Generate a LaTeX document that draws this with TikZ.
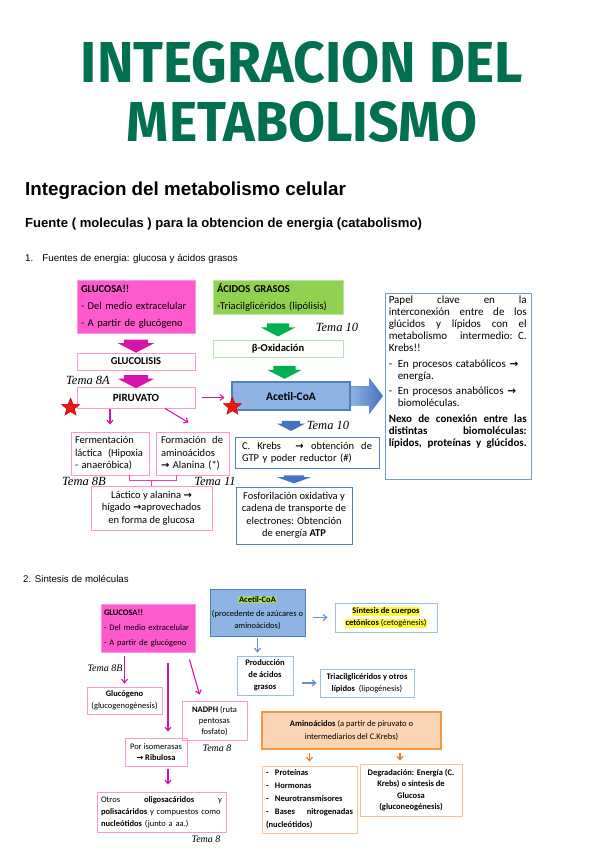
\documentclass[tikz,border=0pt]{standalone}
\usepackage{graphicx}
\usepackage{fontspec}
\setmainfont{Carlito}
\newfontfamily\arialf{Liberation Sans}
\newfontfamily\titlef{Fira Sans}
\newfontfamily\temaf{Liberation Serif}
\newfontfamily\symf{DejaVu Sans}
\usetikzlibrary{positioning,calc,shapes.arrows,shapes.geometric,arrows.meta}
\definecolor{titlegreen}{RGB}{0,112,80}
\definecolor{magfill}{RGB}{255,90,205}
\definecolor{magline}{RGB}{255,150,215}
\definecolor{magarr}{RGB}{215,20,170}
\definecolor{greenfill}{RGB}{146,208,80}
\definecolor{greenline}{RGB}{180,230,180}
\definecolor{greenarr}{RGB}{0,176,80}
\definecolor{bluefill}{RGB}{141,180,226}
\definecolor{blueline}{RGB}{79,129,189}
\definecolor{lightblue}{RGB}{155,190,228}
\definecolor{bluearr}{RGB}{68,114,196}
\definecolor{orangefill}{RGB}{251,212,180}
\definecolor{orangeline}{RGB}{247,150,70}
\definecolor{orangearr}{RGB}{240,120,30}
\definecolor{hlgreen}{RGB}{170,220,90}
\definecolor{hlyellow}{RGB}{255,250,60}
\definecolor{starred}{RGB}{240,20,20}
% justified line of a given width
\newcommand{\spread}[2]{\leavevmode\hbox to #1pt{\spaceskip=0.23em plus 1fil\relax #2}}
\newcommand{\hl}[2]{{\setlength{\fboxsep}{0.6pt}\colorbox{#1}{#2}}}
\newcommand{\arr}{{\symf\bfseries\fontsize{0.95em}{1em}\selectfont →}}
\tikzset{
box/.style={draw, line width=0.9pt, inner sep=2pt, align=center, font=\fontsize{10.5}{12.5}\selectfont},
pinkbox/.style={box, draw=magline},
magbox/.style={box, draw=magline, fill=magfill},
greenbox/.style={box, draw=greenline, fill=greenfill},
bluebox/.style={box, draw=blueline},
acetbox/.style={box, draw=blueline, fill=bluefill, line width=1.2pt},
fatdown/.style={single arrow, draw=none, rotate=-90, inner xsep=0pt, inner ysep=12pt, minimum height=13pt, single arrow head extend=6pt, single arrow tip angle=125},
tema/.style={inner sep=0pt, font=\temaf\itshape\fontsize{12.5}{12.5}\selectfont},
temasmall/.style={inner sep=0pt, font=\temaf\itshape\fontsize{10}{10}\selectfont},
redstar/.style={star, star points=5, star point ratio=2.3, fill=starred, draw=red!70!black, inner sep=0pt, minimum size=19pt},
magthin/.style={draw=magarr, line width=1.1pt, -{Straight Barb[length=3.5pt,width=6pt]}},
bluethin/.style={draw=bluearr!80, line width=1.2pt, -{Straight Barb[length=3.5pt,width=6pt]}},
orangethin/.style={draw=orangearr, line width=1.2pt, -{Straight Barb[length=3.5pt,width=6pt]}},
}

\begin{document}
\begin{tikzpicture}[x=1pt,y=1pt,yscale=-1]
\useasboundingbox (0,0) rectangle (599,848);
\fill[white] (0,0) rectangle (599,848);

% Titles
\node[text=titlegreen, inner sep=0pt] (title1) at (302,62.5) {\resizebox{442pt}{41pt}{\titlef\bfseries INTEGRACION DEL}};
\node[text=titlegreen, inner sep=0pt] (title2) at (302,122) {\resizebox{350pt}{40pt}{\titlef\bfseries METABOLISMO}};
\node[anchor=base west, inner sep=0pt, font=\arialf\bfseries\fontsize{18.8}{18.8}\selectfont] (head1) at (25,195) {Integracion del metabolismo celular};
\node[anchor=base west, inner sep=0pt, font=\arialf\bfseries\fontsize{13.1}{13.1}\selectfont] (head2) at (25,227) {Fuente ( moleculas ) para la obtencion de energia (catabolismo)};
\node[anchor=base west, inner sep=0pt, font=\arialf\fontsize{9.8}{9.8}\selectfont] (head3) at (25,261) {1.\hspace{9pt}Fuentes de energia: glucosa y ácidos grasos};

% 1. fuentes de energia
\node[magbox, minimum width=118pt, minimum height=53pt, text width=110pt, align=left, font=\fontsize{10.5}{17}\selectfont] (glucosa) at (136,306.5) {\textbf{GLUCOSA!!}\\- Del medio extracelular\\- A partir de glucógeno};
\node[pinkbox, minimum width=118pt, minimum height=17pt] (glucolisis) at (136,361.5) {\textbf{GLUCOLISIS}};
\node[pinkbox, minimum width=118pt, minimum height=21pt, font=\bfseries\fontsize{11}{12}\selectfont] (piruvato) at (136,397.5) {PIRUVATO};
\node[greenbox, minimum width=130pt, minimum height=34pt, text width=122pt, align=left, font=\fontsize{10.5}{17}\selectfont] (acidos) at (278,297) {\textbf{ÁCIDOS GRASOS}\\-Triacilglicéridos (lipólisis)};
\node[box, draw=greenline, minimum width=130pt, minimum height=17pt] (betaox) at (278,348.5) {\textbf{β-Oxidación}};
\node[acetbox, minimum width=118pt, minimum height=28pt, font=\bfseries\fontsize{11.5}{12}\selectfont] (acetil) at (291,396) {Acetil-CoA};
\node[single arrow, anchor=tail, left color=bluefill, right color=bluearr, draw=blueline, minimum height=32pt, inner xsep=0pt, inner ysep=9.5pt, single arrow head extend=8pt, single arrow tip angle=105] (bigarrow) at (acetil.east) {};

\node[fatdown, fill=magarr] (m1) at ($(glucosa.south)!0.5!(glucolisis.north)$) {};
\node[fatdown, fill=magarr] (m2) at ($(glucolisis.south)!0.5!(piruvato.north)$) {};
\node[fatdown, fill=greenarr, inner ysep=11pt] (g1) at ($(acidos.south)!0.5!(betaox.north)$) {};
\node[fatdown, fill=greenarr, inner ysep=11pt] (g2) at ($(betaox.south)!0.5!(acetil.north)$) {};

% Papel clave
\node[box, draw=blueline!80, minimum width=146pt, minimum height=186pt] (papel) at (458,386) {};
\node[anchor=north west, inner sep=0pt, text width=138pt, align=left, font=\fontsize{11}{12}\selectfont] (papeltxt) at ($(papel.north west)+(4,3.5)$) {\spread{138}{Papel clave en la}\\\spread{138}{interconexión entre de los}\\\spread{138}{glúcidos y lípidos con el}\\\spread{138}{metabolismo intermedio: C.}\\Krebs!!\\[3.5pt]\makebox[9pt][l]{-}En procesos catabólicos \arr\\\hspace*{9pt}energía.\\[3.5pt]\makebox[9pt][l]{-}En procesos anabólicos \arr\\\hspace*{9pt}biomoléculas.\\[3.5pt]\spread{138}{\bfseries Nexo de conexión entre las}\\\spread{138}{\bfseries distintas biomoléculas:}\\\spread{138}{\bfseries lípidos, proteínas y glúcidos.}};

\node[redstar] (star1) at ($(piruvato.south west)+(-6,-1)$) {};
\node[redstar] (star2) at ($(acetil.south west)+(1,-4)$) {};

\node[pinkbox, minimum width=78pt, minimum height=43pt, text width=70pt, align=left] (fermen) at (110,453.5) {Fermentación\\\spread{68}{láctica (Hipoxia}\\- anaeróbica)};
\node[pinkbox, minimum width=73pt, minimum height=43pt, text width=63pt, align=left] (formac) at (192.5,453.5) {\spread{62}{Formación de}\\aminoácidos\\\arr\ Alanina (*)};
\node[pinkbox, minimum width=121pt, minimum height=44pt] (lactico) at (151.5,508) {Láctico y alanina \arr\\hígado \arr aprovechados\\en forma de glucosa};

\node[bluebox, minimum width=144pt, minimum height=31pt, text width=130pt, align=left] (krebs) at (307,452.5) {\spread{130}{C. Krebs \ \arr\ obtención de}\\GTP y poder reductor (\#)};
\node[bluebox, minimum width=116pt, minimum height=57pt] (fosfor) at (294,515.5) {Fosforilación oxidativa y\\cadena de transporte de\\electrones: Obtención\\de energía \textbf{ATP}};
\node[fatdown, fill=bluearr, inner ysep=9pt, minimum height=10pt, single arrow head extend=5pt] (b1) at ($(acetil.south)!0.5!(acetil.south |- krebs.north)$) {};
\node[fatdown, fill=bluearr, inner ysep=10pt, minimum height=8pt, single arrow head extend=7pt, single arrow tip angle=140] (b2) at ($(fosfor.north)!0.5!(fosfor.north |- krebs.south)$) {};

\draw[magthin, shorten <=7pt, shorten >=7pt] (piruvato.east) -- (piruvato.east -| acetil.west);
\draw[magthin, shorten <=1pt, shorten >=7pt] (fermen.north |- piruvato.south) -- (fermen.north);
\draw[magthin] ($(piruvato.south)+(29,0)$) -- ($(formac.north)+(-4,-9)$);
\draw[draw=magarr!80, line width=1pt] ($(fermen.south)+(19,0)$) |- ($(lactico.north)+(0,-5)$) -| ($(formac.south)+(-16.5,0)$);
\draw[draw=magarr!80, line width=1pt] ($(lactico.north)+(0,-5)$) -- (lactico.north);

\node[tema] (t8a) at (88,380) {Tema 8A};
\node[tema] (t10a) at (337,327) {Tema 10};
\node[tema] (t10b) at (328,425) {Tema 10};
\node[tema] (t8b) at (84,481) {Tema 8B};
\node[tema] (t11) at (215,481) {Tema 11};

% 2. sintesis de moleculas
\node[anchor=base west, inner sep=0pt, font=\arialf\fontsize{9.7}{9.7}\selectfont] (head4) at (23,582) {2. Sintesis de moléculas};

\node[magbox, minimum width=94pt, minimum height=48pt, text width=88pt, align=left, font=\fontsize{8.5}{15}\selectfont] (glucosa2) at (148,628) {\textbf{GLUCOSA!!}\\- Del medio extracelular\\- A partir de glucógeno};
\node[box, draw=blueline, fill=bluefill, minimum width=95pt, minimum height=47pt, font=\fontsize{8.5}{12}\selectfont] (acetil2) at (257.5,612.5) {\hl{hlgreen}{\textbf{Acetil-CoA}}\\[2pt](procedente de azúcares o\\aminoácidos)};
\node[box, draw=lightblue, minimum width=102pt, minimum height=29pt, font=\bfseries\fontsize{8.5}{12}\selectfont] (cetonicos) at (386,617.5) {\hl{hlyellow}{Síntesis de cuerpos}\\\hl{hlyellow}{cetónicos \mdseries(cetogénesis)}};
\node[box, draw=lightblue, minimum width=56pt, minimum height=39pt, font=\bfseries\fontsize{8.5}{12}\selectfont] (acgrasos) at (265,675.5) {Producción\\de ácidos\\grasos};
\node[box, draw=lightblue, minimum width=94pt, minimum height=28pt, font=\fontsize{8.5}{12}\selectfont] (triacil) at (367,683) {\textbf{Triacilglicéridos y otros}\\\textbf{lípidos} \ (lipogénesis)};
\node[box, draw=orangeline, fill=orangefill, line width=1.3pt, minimum width=179pt, minimum height=37pt, font=\fontsize{8.5}{13}\selectfont] (amino) at (351.5,730.5) {\textbf{Aminoácidos} (a partir de piruvato o\\intermediarios del C.Krebs)};
\node[box, draw=orangeline!60, minimum width=95pt, minimum height=67pt, text width=87pt, align=left, font=\bfseries\fontsize{8.5}{13}\selectfont] (proteinas) at (309.5,799.5) {\makebox[9pt][l]{-}Proteínas\\\makebox[9pt][l]{-}Hormonas\\\makebox[9pt][l]{-}Neurotransmisores\\\makebox[9pt][l]{-}\spread{78}{Bases nitrogenadas}\\(nucleótidos)};
\node[box, draw=orangeline!60, minimum width=102pt, minimum height=52pt, font=\bfseries\fontsize{8.5}{11.5}\selectfont] (degrad) at (411,790) {Degradación: Energía (C.\\Krebs) o síntesis de\\Glucosa\\(gluconeogénesis)};

\node[pinkbox, minimum width=75pt, minimum height=27pt, font=\fontsize{8.5}{12}\selectfont] (glucogeno) at (124.5,700.5) {\textbf{Glucógeno}\\(glucogenogénesis)};
\node[pinkbox, minimum width=65pt, minimum height=39pt, font=\fontsize{8.5}{11}\selectfont] (nadph) at (214.5,720.5) {\textbf{NADPH} (ruta\\pentosas\\fosfato)};
\node[pinkbox, minimum width=62pt, minimum height=28pt, font=\fontsize{8.5}{11.5}\selectfont] (isomer) at (156,752) {Por isomerasas\\\arr\ \textbf{Ribulosa}};
\node[pinkbox, minimum width=129pt, minimum height=40pt, text width=121pt, align=left, font=\fontsize{8.5}{12}\selectfont] (otros) at (161.5,812) {\spread{121}{Otros \textbf{oligosacáridos} y}\\\textbf{polisacáridos} y compuestos como\\\textbf{nucleótidos} (junto a aa.)};

\draw[bluethin, shorten <=8pt, shorten >=7pt] (acetil2.east |- cetonicos.west) -- (cetonicos.west);
\draw[bluethin, shorten <=2pt, shorten >=3pt] (acetil2.south) -- (acetil2.south |- acgrasos.north);
\draw[bluethin, shorten <=9pt, shorten >=3pt] (acgrasos.east |- triacil.west) -- (triacil.west);
\draw[orangethin, shorten <=3pt, shorten >=4pt] (proteinas.north |- amino.south) -- (proteinas.north);
\coordinate (dtop) at ($(degrad.north)+(-11,0)$);
\draw[orangethin, shorten <=3pt, shorten >=3pt] (dtop |- amino.south) -- (dtop);

\coordinate (isotop) at ($(isomer.north)+(12,0)$);
\draw[magthin, shorten <=4pt, shorten >=3pt] (glucogeno.north |- glucosa2.south) -- (glucogeno.north);
\draw[magthin, shorten <=11pt, shorten >=6pt] (isotop |- glucosa2.south) -- (isotop);
\draw[magthin] ($(glucosa2.south east)+(-6,7)$) -- ($(nadph.north west)+(18,-6)$);
\draw[magthin, shorten <=3pt, shorten >=7pt] (isotop |- isomer.south) -- (isotop |- otros.north);

\node[temasmall] (t8b2) at (105,668) {Tema 8B};
\node[temasmall] (t8c) at (217,748) {Tema 8};
\node[temasmall] (t8d) at (206,839) {Tema 8};

\end{tikzpicture}
\end{document}
